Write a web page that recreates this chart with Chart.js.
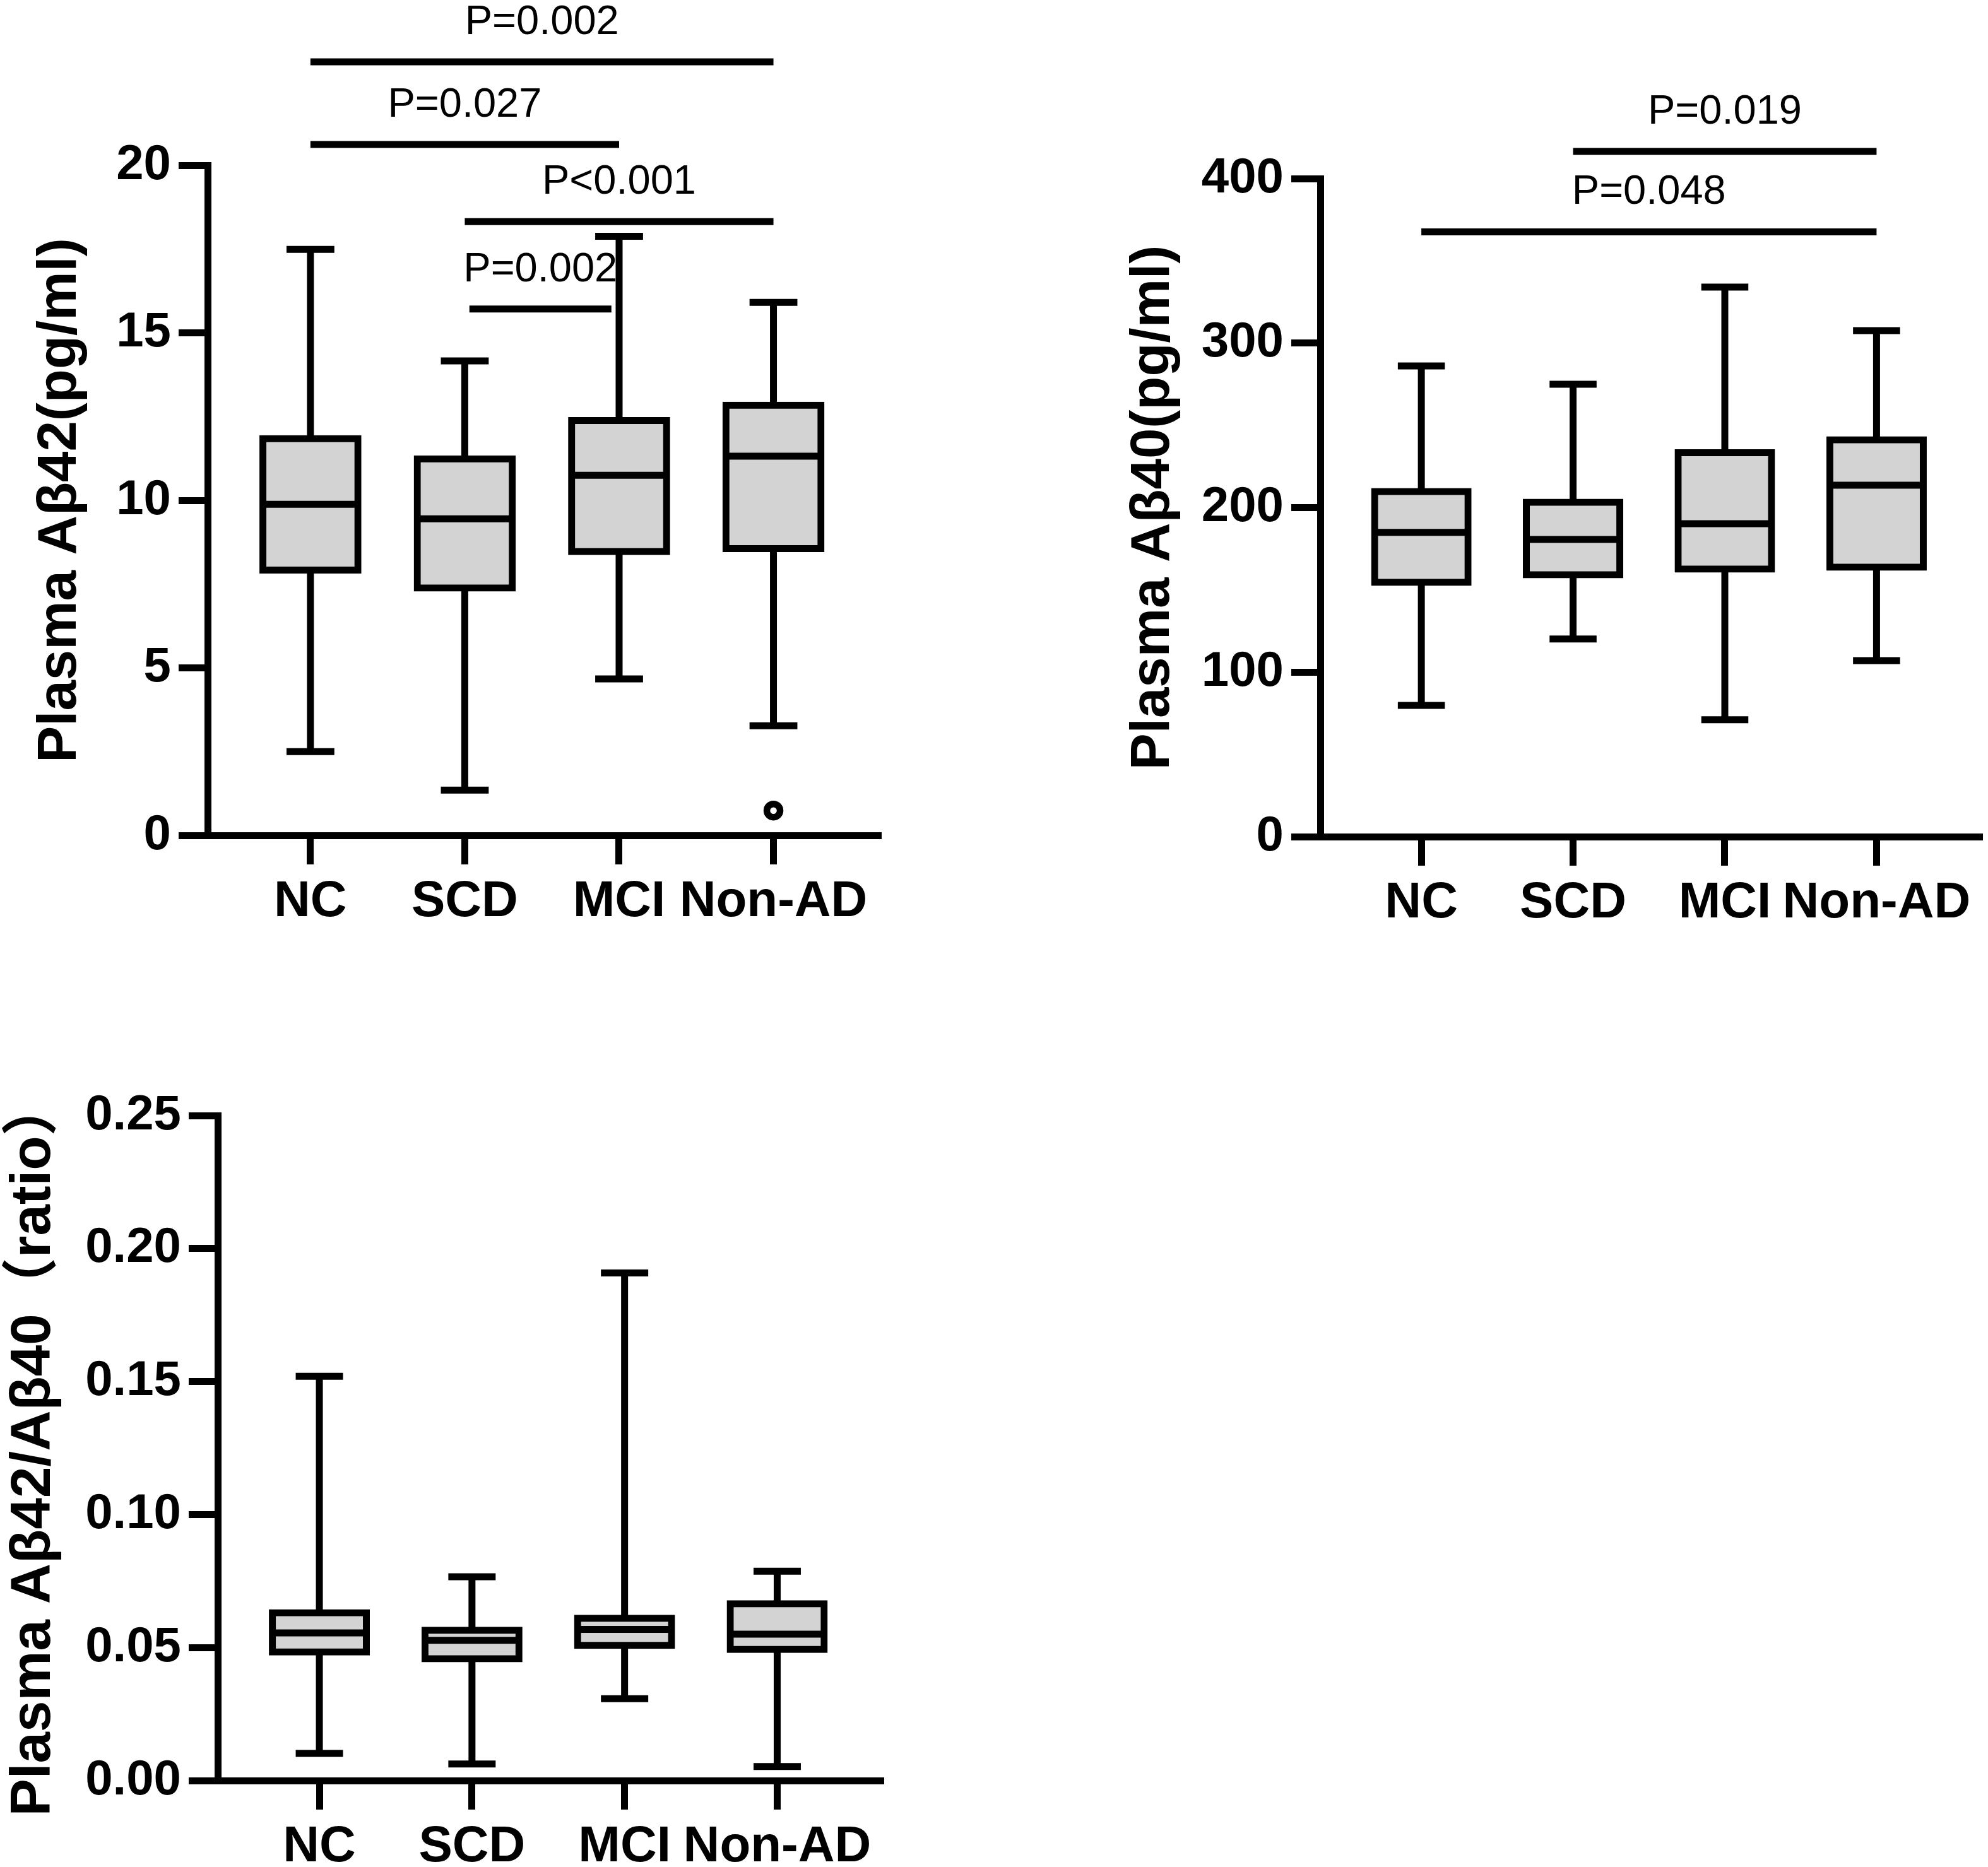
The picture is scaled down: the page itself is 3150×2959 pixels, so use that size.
<!DOCTYPE html>
<html>
<head>
<meta charset="utf-8">
<script src="https://cdn.jsdelivr.net/npm/chart.js@4"></script>
<style>
  html, body { margin: 0; padding: 0; background: #fff; }
  #wrap { position: relative; width: 3150px; height: 2959px; background: #fff; }
  canvas { position: absolute; }
</style>
</head>
<body>
<div id="wrap">
  <canvas id="c42" width="1500" height="1500" style="left:0;top:0"></canvas>
  <canvas id="c40" width="1550" height="1500" style="left:1600px;top:0"></canvas>
  <canvas id="cRatio" width="1500" height="1459" style="left:0;top:1500px"></canvas>
</div>
<script>
// groups on the x axis
var groups = ['NC', 'SCD', 'MCI', 'Non-AD'];

// Plasma Abeta42 (pg/ml)
var min42 = [2.5, 1.35, 4.67, 3.27];
var q1_42 = [7.92, 7.38, 8.47, 8.56];
var med42 = [9.88, 9.45, 10.75, 11.32];
var q3_42 = [11.84, 11.24, 12.38, 12.84];
var max42 = [17.49, 14.16, 17.88, 15.91];
var out42 = [{ x: 3, y: 0.74 }];
var ticks42 = [0, 5, 10, 15, 20];
// significance brackets
var sigLevel42 = [23.09, 20.62, 18.32, 15.71];
var sigFrom42 = [0, 0, 1, 1.03];
var sigTo42 = [3, 2, 3, 1.95];
var sigText42 = ['P=0.002', 'P=0.027', 'P<0.001', 'P=0.002'];

// Plasma Abeta40 (pg/ml)
var min40 = [79.8, 120.1, 71, 107];
var q1_40 = [154.6, 159.2, 162.6, 163.8];
var med40 = [184.9, 180.6, 190.2, 213.6];
var q3_40 = [209.8, 203.3, 233.4, 241.2];
var max40 = [286.1, 275, 334, 307.6];
var ticks40 = [0, 100, 200, 300, 400];
var sigLevel40 = [416.5, 367.6];
var sigFrom40 = [1, 0];
var sigTo40 = [3, 3];
var sigText40 = ['P=0.019', 'P=0.048'];

// Abeta42/Abeta40 ratio
var minR = [0.0102, 0.0062, 0.0308, 0.0053];
var q1R = [0.0483, 0.0458, 0.0508, 0.0493];
var medR = [0.0555, 0.0527, 0.0568, 0.055];
var q3R = [0.0631, 0.0565, 0.061, 0.0665];
var maxR = [0.152, 0.0766, 0.1908, 0.0787];
var ticksR = [0, 0.05, 0.10, 0.15, 0.20, 0.25];

Chart.defaults.font.family = "'Liberation Sans', Arial, 'Noto Sans CJK SC', sans-serif";
Chart.defaults.color = '#000';

var LINE = 11;
var CAP = 0.155; // half width of whisker caps, in x units

// whiskers, medians and p-value brackets
function boxExtras(lo, med, hi, q1, q3, sig) {
  return {
    id: 'boxExtras',
    beforeDatasetsDraw: function (chart) {
      var ctx = chart.ctx, x = chart.scales.x, y = chart.scales.y;
      ctx.save();
      ctx.strokeStyle = '#000';
      ctx.lineWidth = LINE;
      for (var i = 0; i < lo.length; i++) {
        var px = x.getPixelForValue(i);
        var c0 = x.getPixelForValue(i - CAP), c1 = x.getPixelForValue(i + CAP);
        ctx.beginPath();
        ctx.moveTo(px, y.getPixelForValue(q3[i]));
        ctx.lineTo(px, y.getPixelForValue(hi[i]));
        ctx.moveTo(px, y.getPixelForValue(q1[i]));
        ctx.lineTo(px, y.getPixelForValue(lo[i]));
        ctx.stroke();
        ctx.beginPath();
        ctx.moveTo(c0, y.getPixelForValue(hi[i]));
        ctx.lineTo(c1, y.getPixelForValue(hi[i]));
        ctx.moveTo(c0, y.getPixelForValue(lo[i]));
        ctx.lineTo(c1, y.getPixelForValue(lo[i]));
        ctx.stroke();
      }
      ctx.restore();
    },
    afterDatasetsDraw: function (chart) {
      var ctx = chart.ctx, y = chart.scales.y;
      var meta = chart.getDatasetMeta(0);
      ctx.save();
      ctx.strokeStyle = '#000';
      ctx.lineWidth = LINE;
      meta.data.forEach(function (bar, i) {
        var p = bar.getProps(['x', 'width'], true);
        var py = y.getPixelForValue(med[i]);
        ctx.beginPath();
        ctx.moveTo(p.x - p.width / 2, py);
        ctx.lineTo(p.x + p.width / 2, py);
        ctx.stroke();
      });
      ctx.restore();
    },
    afterDraw: function (chart) {
      if (!sig) return;
      var ctx = chart.ctx, x = chart.scales.x, y = chart.scales.y;
      ctx.save();
      ctx.strokeStyle = '#000';
      ctx.fillStyle = '#000';
      ctx.lineWidth = LINE;
      ctx.font = "65px 'Liberation Sans', Arial, sans-serif";
      ctx.textAlign = 'center';
      ctx.textBaseline = 'alphabetic';
      for (var i = 0; i < sig.level.length; i++) {
        var py = y.getPixelForValue(sig.level[i]);
        var a = x.getPixelForValue(sig.from[i]), b = x.getPixelForValue(sig.to[i]);
        ctx.beginPath();
        ctx.moveTo(a, py);
        ctx.lineTo(b, py);
        ctx.stroke();
        ctx.fillText(sig.text[i], (a + b) / 2, py - 44);
      }
      ctx.restore();
    }
  };
}

function makeBox(id, cfg) {
  var boxData = cfg.q1.map(function (v, i) { return { x: i, y: [v, cfg.q3[i]] }; });
  var datasets = [{
    type: 'bar',
    data: boxData,
    backgroundColor: '#d3d3d3',
    borderColor: '#000',
    borderWidth: 11,
    borderSkipped: false,
    inflateAmount: 5.5,
    categoryPercentage: 0.8,
    barPercentage: 0.77
  }];
  if (cfg.outliers) {
    datasets.push({
      type: 'scatter',
      data: cfg.outliers,
      pointRadius: 10.5,
      borderWidth: 10.5,
      borderColor: '#000',
      backgroundColor: '#fff'
    });
  }
  return new Chart(document.getElementById(id), {
    type: 'bar',
    data: { datasets: datasets },
    options: {
      responsive: false,
      animation: false,
      devicePixelRatio: 1,
      layout: { padding: { left: 0, top: cfg.padTop, right: cfg.padRight, bottom: 0 } },
      plugins: { legend: { display: false }, tooltip: { enabled: false } },
      scales: {
        x: {
          type: 'linear',
          offset: false,
          min: -0.666,
          max: 3.697,
          afterBuildTicks: function (s) { s.ticks = groups.map(function (g, i) { return { value: i }; }); },
          afterFit: function (s) { s.height = cfg.xHeight; },
          grid: { offset: false, drawOnChartArea: false, drawTicks: true, tickLength: 46, tickWidth: LINE, color: '#000' },
          border: { display: true, width: 11, color: '#000' },
          ticks: {
            autoSkip: false, maxRotation: 0, minRotation: 0, padding: 12,
            font: { size: 80, weight: 'bold' },
            callback: function (v) { return groups[v]; }
          }
        },
        y: {
          type: 'linear',
          min: cfg.ticks[0],
          max: cfg.ticks[cfg.ticks.length - 1],
          afterBuildTicks: function (s) { s.ticks = cfg.ticks.map(function (v) { return { value: v }; }); },
          afterFit: function (s) { s.width = cfg.yWidth; },
          grid: { drawOnChartArea: false, drawTicks: true, tickLength: 46, tickWidth: LINE, color: '#000' },
          border: { display: true, width: 11, color: '#000' },
          ticks: {
            padding: 12,
            font: { size: 78, weight: 'bold' },
            callback: function (v) { return cfg.decimals ? v.toFixed(cfg.decimals) : String(v); }
          },
          title: {
            display: true,
            text: cfg.title,
            padding: { top: cfg.titlePad, bottom: 0 },
            font: { size: cfg.titleSize, weight: 'bold' }
          }
        }
      }
    },
    plugins: [boxExtras(cfg.min, cfg.med, cfg.max, cfg.q1, cfg.q3, cfg.sig)]
  });
}

makeBox('c42', {
  min: min42, q1: q1_42, med: med42, q3: q3_42, max: max42, outliers: out42,
  ticks: ticks42, title: 'Plasma A\u03b242(pg/ml)',
  sig: { level: sigLevel42, from: sigFrom42, to: sigTo42, text: sigText42 },
  padTop: 262, padRight: 104, yWidth: 329, xHeight: 176, titlePad: 44, titleSize: 87
});

makeBox('c40', {
  min: min40, q1: q1_40, med: med40, q3: q3_40, max: max40,
  ticks: ticks40, title: 'Plasma A\u03b240(pg/ml)',
  sig: { level: sigLevel40, from: sigFrom40, to: sigTo40, text: sigText40 },
  padTop: 283, padRight: 9, yWidth: 492, xHeight: 174, titlePad: 176, titleSize: 87
});

makeBox('cRatio', {
  min: minR, q1: q1R, med: medR, q3: q3R, max: maxR,
  ticks: ticksR, decimals: 2, title: 'Plasma A\u03b242/A\u03b240\uff08ratio\uff09',
  sig: null,
  padTop: 268, padRight: 100, yWidth: 345, xHeight: 137, titlePad: 1, titleSize: 89
});
</script>
</body>
</html>
